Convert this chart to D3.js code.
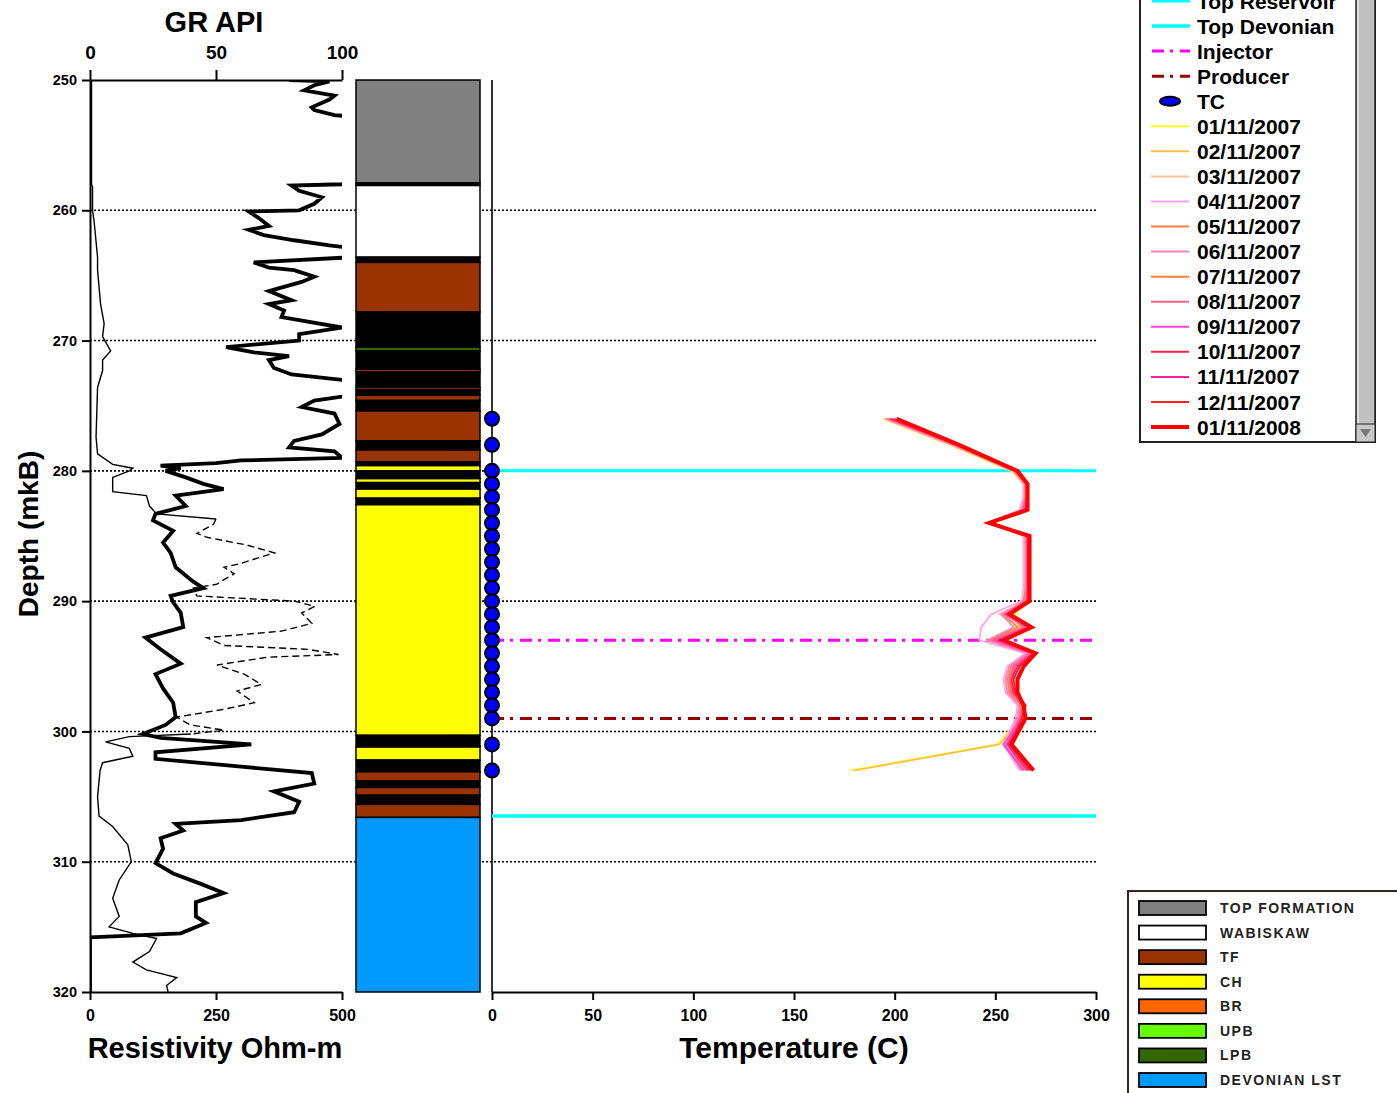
<!DOCTYPE html>
<html>
<head>
<meta charset="utf-8">
<script src="https://cdn.jsdelivr.net/npm/d3@7/dist/d3.min.js"></script>
<style>
  body { margin: 0; background: #fff; }
  svg text { font-family: "Liberation Sans", Arial, sans-serif; font-weight: bold; fill: #000; }
</style>
</head>
<body>
<svg id="chart" width="1397" height="1093"></svg>
<script>
// ---- data ----
const depthTicks = [250, 260, 270, 280, 290, 300, 310, 320];
const gridDepths = [260, 270, 280, 290, 300, 310];
const grTicks = [0, 50, 100];
const resTicks = [0, 250, 500];
const tempTicks = [0, 50, 100, 150, 200, 250, 300];

// gamma ray (API), values above 100 run off the track
const grDepth = [250.0, 250.1, 250.4, 250.8, 251.2, 251.5, 252.1, 252.3, 252.7, 252.8, 255.0, 257.9, 258.0, 258.1, 258.5, 259.0, 259.5, 260.0, 260.1, 260.6, 261.2, 261.5, 261.9, 262.3, 262.7, 262.9, 263.6, 264.0, 264.4, 264.6, 265.1, 265.5, 266.2, 266.9, 267.2, 267.7, 268.2, 269.0, 269.5, 270.0, 270.5, 270.9, 271.2, 271.5, 272.1, 272.6, 273.1, 274.2, 274.6, 275.1, 275.6, 276.4, 277.2, 277.7, 278.2, 278.5, 279.0, 279.2, 279.4, 279.6, 279.8, 280.0, 280.5, 281.0, 281.4, 281.9, 282.7, 283.3, 283.8, 284.6, 285.5, 286.3, 287.4, 288.5, 289.0, 289.6, 290.1, 290.9, 292.0, 292.8, 293.7, 294.8, 295.6, 296.7, 297.8, 298.9, 299.5, 300.2, 300.5, 301.0, 301.6, 302.1, 302.7, 303.2, 304.0, 304.6, 305.4, 306.2, 306.8, 307.1, 307.6, 308.2, 309.0, 310.1, 310.9, 311.7, 312.4, 313.1, 314.2, 314.7, 315.5, 315.8, 320.0];
const grValue = [79, 95, 89, 85, 97, 95, 88, 89, 97, 104, 120, 104, 100, 80, 83, 92, 89, 83, 63, 67, 71, 63, 69, 81, 95, 104, 104, 65, 71, 81, 89, 84, 71, 80, 71, 77, 76, 100, 83, 83, 54, 65, 79, 71, 73, 80, 104, 104, 89, 84, 97, 99, 92, 81, 79, 97, 100, 60, 50, 28, 36, 30, 38, 45, 53, 34, 38, 26, 25, 33, 29, 32, 34, 41, 45, 32, 33, 36, 37, 22, 28, 36, 26, 29, 33, 34, 30, 21, 28, 64, 26, 26, 60, 88, 89, 73, 83, 81, 60, 34, 37, 28, 29, 26, 33, 44, 53, 42, 42, 46, 36, 0, 0];

// resistivity (ohm-m), dashed between resDashTop and resDashBase
const resDepth = [250.0, 258.0, 258.2, 260.0, 260.8, 263.6, 264.6, 267.2, 268.7, 269.7, 270.8, 271.5, 272.3, 273.6, 277.4, 278.7, 279.5, 279.8, 280.0, 280.5, 281.6, 281.9, 282.7, 283.3, 283.7, 284.1, 284.8, 285.1, 285.7, 286.3, 286.6, 287.1, 287.4, 287.9, 288.5, 288.7, 289.0, 289.6, 290.0, 290.4, 290.9, 291.7, 292.3, 292.8, 293.4, 293.7, 294.1, 294.3, 294.9, 295.6, 296.4, 296.9, 297.8, 298.3, 298.9, 299.5, 299.9, 300.2, 300.4, 300.8, 301.3, 301.9, 302.4, 303.0, 305.0, 306.5, 307.3, 308.7, 310.0, 311.4, 312.8, 314.2, 315.0, 315.5, 315.9, 316.9, 317.7, 318.3, 318.9, 319.5, 320.0];
const resValue = [3, 3, 5, 5, 8, 15, 15, 21, 28, 25, 41, 25, 25, 15, 12, 15, 45, 85, 78, 45, 45, 112, 118, 132, 250, 245, 212, 232, 312, 366, 340, 300, 266, 286, 259, 252, 205, 212, 406, 446, 420, 440, 380, 232, 266, 433, 493, 353, 252, 306, 340, 292, 326, 266, 172, 199, 266, 200, 78, 31, 78, 85, 25, 20, 15, 18, 45, 75, 82, 58, 45, 58, 38, 85, 132, 118, 85, 112, 172, 152, 155];
const resDashTop = 283.7;
const resDashBase = 300.2;

// lithology column
const lithoTop  = [250.0, 257.9, 258.1, 263.6, 264.0, 267.8, 270.5, 270.8, 272.2, 272.4, 273.6, 273.8, 274.2, 274.6, 275.4, 277.7, 278.4, 279.3, 279.6, 280.0, 280.6, 280.9, 281.4, 282.1, 282.6, 300.3, 301.2, 302.2, 303.1, 303.8, 304.3, 304.9, 305.6, 306.6];
const lithoBase = [257.9, 258.1, 263.6, 264.0, 267.8, 270.5, 270.8, 272.2, 272.4, 273.6, 273.8, 274.2, 274.6, 275.4, 277.7, 278.4, 279.3, 279.6, 280.0, 280.6, 280.9, 281.4, 282.1, 282.6, 300.3, 301.2, 302.2, 303.1, 303.8, 304.3, 304.9, 305.6, 306.6, 320.0];
const lithoUnit = ['TOP FORMATION', 'SHALE', 'WABISKAW', 'SHALE', 'TF', 'SHALE', 'LPB', 'SHALE', 'TF', 'SHALE', 'TF', 'SHALE', 'TF', 'SHALE', 'TF', 'SHALE', 'TF', 'SHALE', 'CH', 'SHALE', 'CH', 'SHALE', 'CH', 'SHALE', 'CH', 'SHALE', 'CH', 'SHALE', 'TF', 'SHALE', 'TF', 'SHALE', 'TF', 'DEVONIAN LST'];
const unitNames  = ['TOP FORMATION', 'WABISKAW', 'TF', 'CH', 'BR', 'UPB', 'LPB', 'DEVONIAN LST'];
const unitColors = ['#808080', '#ffffff', '#993300', '#ffff00', '#ff6600', '#66ff00', '#336600', '#0099ff'];

// horizons and wells
const horizonNames = ['Top Reservoir', 'Top Devonian', 'Injector', 'Producer'];
const horizonDepth = [280, 306.5, 293, 299];

// thermocouple depths and temperature profiles (C)
const tcDepth = [276, 278, 280, 281, 282, 283, 284, 285, 286, 287, 288, 289, 290, 291, 292, 293, 294, 295, 296, 297, 298, 299, 301, 303];
const surveyDates = ['01/11/2007', '02/11/2007', '03/11/2007', '04/11/2007', '05/11/2007', '06/11/2007', '07/11/2007', '08/11/2007', '09/11/2007', '10/11/2007', '11/11/2007', '12/11/2007', '01/11/2008'];
const surveyColors = ['#ffff20', '#ffc040', '#ffc0a0', '#ffa0f0', '#ff8040', '#ff80c0', '#ff8040', '#ff6080', '#ff40e0', '#ff2040', '#ff20a0', '#ff2020', '#ff0000'];
const temps = [
  [194, 227, 258, 264, 264, 263, 246, 264, 265, 265, 265, 265, 265, 260, 262, 249, 266, 258, 256, 257, 263, 262, 251, 178],
  [195, 228, 259, 264, 264, 263, 246, 265, 265, 265, 265, 265, 265, 258, 263, 248, 267, 259, 257, 258, 263, 263, 252, 180],
  [195, 228, 259, 265, 265, 263, 246, 265, 265, 265, 265, 265, 264, 252, 262, 246, 266, 257, 255, 256, 262, 261, 255, 263],
  [195, 228, 259, 264, 264, 262, 246, 264, 264, 264, 264, 264, 263, 248, 243, 242, 265, 256, 254, 255, 261, 260, 254, 262],
  [196, 229, 259, 265, 265, 263, 246, 265, 265, 265, 265, 265, 264, 254, 261, 247, 267, 258, 256, 257, 262, 262, 256, 264],
  [196, 229, 259, 265, 265, 263, 246, 265, 265, 265, 265, 265, 265, 253, 259, 246, 266, 257, 255, 256, 262, 261, 255, 263],
  [197, 230, 260, 265, 265, 264, 247, 266, 266, 266, 266, 266, 265, 255, 264, 248, 268, 259, 257, 258, 263, 262, 256, 265],
  [197, 230, 260, 265, 265, 264, 247, 266, 266, 266, 266, 266, 265, 255, 265, 249, 268, 259, 257, 258, 264, 262, 256, 266],
  [198, 231, 260, 266, 266, 264, 247, 266, 266, 266, 266, 266, 266, 255, 266, 250, 268, 260, 258, 259, 264, 263, 254, 264],
  [198, 231, 260, 266, 266, 265, 247, 266, 266, 266, 266, 266, 266, 256, 267, 252, 269, 261, 258, 259, 265, 263, 257, 267],
  [199, 232, 261, 266, 266, 265, 247, 267, 267, 267, 267, 267, 266, 256, 267, 253, 269, 262, 259, 260, 265, 264, 256, 266],
  [200, 232, 261, 266, 266, 265, 247, 267, 267, 267, 267, 267, 267, 256, 268, 254, 269, 262, 259, 260, 265, 264, 257, 268],
  [201, 232, 261, 266, 266, 266, 247, 267, 267, 267, 267, 267, 267, 257, 268, 254, 270, 264, 261, 261, 264, 265, 258, 269]
];

// ---- layout ----
const svg = d3.select('#chart');
const y = d3.scaleLinear().domain([250, 320]).range([80, 992]);
const xGR = d3.scaleLinear().domain([0, 100]).range([90, 342]);
const xRes = d3.scaleLinear().domain([0, 500]).range([90, 342]);
const xT = d3.scaleLinear().domain([0, 300]).range([492, 1096]);
const lithoLeft = 356, lithoRight = 480;
const unitColor = n => n === 'SHALE' ? '#000000' : unitColors[unitNames.indexOf(n)];

svg.append('defs').append('clipPath').attr('id', 'logclip')
  .append('rect').attr('x', 90).attr('y', 80).attr('width', 252).attr('height', 912);

// dotted depth grid
svg.append('g').selectAll('line').data(gridDepths).join('line')
  .attr('x1', 90).attr('x2', xT(300))
  .attr('y1', d => y(d)).attr('y2', d => y(d))
  .attr('stroke', '#000').attr('stroke-width', 1.6).attr('stroke-dasharray', '2,2');

// logs
const logs = svg.append('g').attr('clip-path', 'url(#logclip)');
const resPts = resDepth.map((d, i) => [d, resValue[i]]);
logs.append('path')
  .attr('d', d3.line().defined(p => p[0] <= resDashTop || p[0] >= resDashBase)
    .x(p => xRes(p[1])).y(p => y(p[0]))(resPts))
  .attr('fill', 'none').attr('stroke', '#000').attr('stroke-width', 1.4);
logs.append('path')
  .attr('d', d3.line().x(p => xRes(p[1])).y(p => y(p[0]))(resPts.filter(p => p[0] >= resDashTop && p[0] <= resDashBase)))
  .attr('fill', 'none').attr('stroke', '#000').attr('stroke-width', 1.4).attr('stroke-dasharray', '7,4');
logs.append('path')
  .attr('d', d3.line().x(v => xGR(v)).y((v, i) => y(grDepth[i]))(grValue))
  .attr('fill', 'none').attr('stroke', '#000').attr('stroke-width', 3.8).attr('stroke-linejoin', 'miter');

// log track axes
const depthAxis = svg.append('g').attr('transform', 'translate(90,0)')
  .call(d3.axisLeft(y).tickValues(depthTicks).tickSize(8).tickSizeOuter(0).tickPadding(5));
depthAxis.selectAll('text').style('font-size', '14.5px');
const grAxis = svg.append('g').attr('transform', 'translate(0,80)')
  .call(d3.axisTop(xGR).tickValues(grTicks).tickSize(10).tickSizeOuter(0).tickPadding(11));
grAxis.selectAll('text').style('font-size', '19px');
const resAxis = svg.append('g').attr('transform', 'translate(0,992)')
  .call(d3.axisBottom(xRes).tickValues(resTicks).tickSize(8).tickSizeOuter(0).tickPadding(10));
resAxis.selectAll('text').style('font-size', '16px');
const tAxis = svg.append('g').attr('transform', 'translate(0,992)')
  .call(d3.axisBottom(xT).tickValues(tempTicks).tickSize(8).tickSizeOuter(0).tickPadding(10));
tAxis.selectAll('text').style('font-size', '16px');
svg.selectAll('.domain, .tick line').attr('stroke', '#000').attr('stroke-width', 2);

// temperature track left edge
svg.append('line').attr('x1', xT(0)).attr('x2', xT(0)).attr('y1', y(250)).attr('y2', y(320))
  .attr('stroke', '#000').attr('stroke-width', 1.6);

// lithology column
svg.append('g').selectAll('rect').data(lithoTop).join('rect')
  .attr('x', lithoLeft).attr('width', lithoRight - lithoLeft)
  .attr('y', d => y(d)).attr('height', (d, i) => y(lithoBase[i]) - y(d))
  .attr('fill', (d, i) => unitColor(lithoUnit[i]))
  .attr('stroke', '#000').attr('stroke-width', 1.5);

// horizons
const dashDot = '12,6,3,7';
const horizonStyle = [
  { color: '#00ffff', dash: null, width: 3 },
  { color: '#00ffff', dash: null, width: 3.5 },
  { color: '#ff00ff', dash: dashDot, width: 3 },
  { color: '#990000', dash: dashDot, width: 3 }
];
svg.append('g').selectAll('line').data(horizonDepth).join('line')
  .attr('x1', xT(0)).attr('x2', xT(300))
  .attr('y1', d => y(d)).attr('y2', d => y(d))
  .attr('stroke', (d, i) => horizonStyle[i].color)
  .attr('stroke-width', (d, i) => horizonStyle[i].width)
  .attr('stroke-dasharray', (d, i) => horizonStyle[i].dash);

// temperature profiles
const tLine = d3.line().x(v => xT(v)).y((v, i) => y(tcDepth[i]));
svg.append('g').selectAll('path').data(temps).join('path')
  .attr('d', d => tLine(d))
  .attr('fill', 'none')
  .attr('stroke', (d, i) => surveyColors[i])
  .attr('stroke-width', (d, i) => i === temps.length - 1 ? 4 : 1.7);

// thermocouples
svg.append('g').selectAll('circle').data(tcDepth).join('circle')
  .attr('cx', xT(0)).attr('cy', d => y(d)).attr('r', 7)
  .attr('fill', '#0000ff').attr('stroke', '#000').attr('stroke-width', 2);

// titles
svg.append('text').attr('x', 214).attr('y', 32).attr('text-anchor', 'middle').style('font-size', '29px').text('GR API');
svg.append('text').attr('x', 215).attr('y', 1058).attr('text-anchor', 'middle').style('font-size', '29px').text('Resistivity Ohm-m');
svg.append('text').attr('x', 794).attr('y', 1058).attr('text-anchor', 'middle').style('font-size', '30px').text('Temperature (C)');
svg.append('text').attr('transform', 'translate(38,534) rotate(-90)').attr('text-anchor', 'middle').style('font-size', '28px').text('Depth (mkB)');

// series legend (top right, scrolled)
const leg = svg.append('g');
leg.append('rect').attr('x', 1140).attr('y', -20).attr('width', 235).attr('height', 462)
  .attr('fill', '#fff').attr('stroke', '#222').attr('stroke-width', 2);
leg.append('rect').attr('x', 1356).attr('y', -20).attr('width', 19).attr('height', 462)
  .attr('fill', '#c0c0c0').attr('stroke', '#222').attr('stroke-width', 1.5);
leg.append('line').attr('x1', 1358).attr('x2', 1358).attr('y1', -20).attr('y2', 424).attr('stroke', '#e8e8e8').attr('stroke-width', 1.5);
leg.append('rect').attr('x', 1356).attr('y', 424).attr('width', 19).attr('height', 18)
  .attr('fill', '#c8c8c8').attr('stroke', '#222').attr('stroke-width', 1);
leg.append('path').attr('d', 'M1360,429 L1371,429 L1365.5,437 Z').attr('fill', '#777');

const legendNames = horizonNames.concat(['TC'], surveyDates);
const legRow = d3.scaleLinear().domain([0, legendNames.length - 1]).range([1, 427]);
const rows = leg.selectAll('g.row').data(legendNames).join('g').attr('class', 'row')
  .attr('transform', (d, i) => `translate(0,${legRow(i)})`);
rows.each(function (name, i) {
  const g = d3.select(this);
  if (i < horizonNames.length) {
    const s = horizonStyle[i];
    g.append('line').attr('x1', 1152).attr('x2', 1190).attr('stroke', s.color)
      .attr('stroke-width', s.width).attr('stroke-dasharray', s.dash);
  } else if (name === 'TC') {
    g.append('ellipse').attr('cx', 1170).attr('rx', 10).attr('ry', 4.5)
      .attr('fill', '#0000ff').attr('stroke', '#000').attr('stroke-width', 2);
  } else {
    const k = surveyDates.indexOf(name);
    g.append('line').attr('x1', 1151).attr('x2', 1189).attr('stroke', surveyColors[k])
      .attr('stroke-width', k === surveyDates.length - 1 ? 4 : 2);
  }
  g.append('text').attr('x', 1197).attr('dy', '0.36em').style('font-size', '21px').text(name);
});

// lithology legend (bottom right)
const lleg = svg.append('g');
lleg.append('rect').attr('x', 1128).attr('y', 891).attr('width', 290).attr('height', 230)
  .attr('fill', '#fff').attr('stroke', '#3a2020').attr('stroke-width', 2);
const lRow = d3.scaleLinear().domain([0, unitNames.length - 1]).range([908, 1080]);
lleg.selectAll('rect.sw').data(unitNames).join('rect').attr('class', 'sw')
  .attr('x', 1139).attr('width', 67).attr('y', (d, i) => lRow(i) - 7).attr('height', 14)
  .attr('fill', (d, i) => unitColors[i]).attr('stroke', '#000').attr('stroke-width', 1.8);
lleg.selectAll('text').data(unitNames).join('text')
  .attr('x', 1220).attr('y', (d, i) => lRow(i)).attr('dy', '0.36em')
  .style('font-size', '14px').style('letter-spacing', '1.5px').style('fill', '#222')
  .text(d => d);
</script>
</body>
</html>
